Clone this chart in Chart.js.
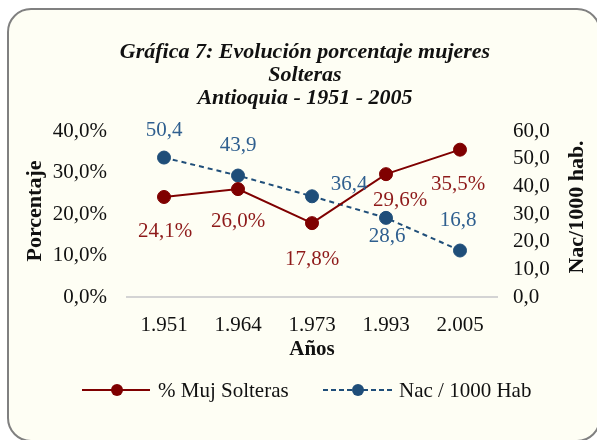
<!DOCTYPE html>
<html><head><meta charset="utf-8">
<script src="https://cdn.jsdelivr.net/npm/chart.js@4"></script>
<style>
html,body{margin:0;padding:0;background:#fff;overflow:hidden;width:597px;height:440px;}
#card{position:absolute;left:7px;top:8px;width:590px;height:430px;border:2px solid #808080;border-radius:24px;background:#fefef4;}
#wrap{position:absolute;left:0;top:0;width:597px;height:440px;}
</style></head><body>
<div id="card"></div>
<div id="wrap"><canvas id="c" width="597" height="440"></canvas></div>
<script>
const categories = ["1.951","1.964","1.973","1.993","2.005"];
const mujSolteras = [24.1, 26.0, 17.8, 29.6, 35.5];
const nacPor1000 = [50.4, 43.9, 36.4, 28.6, 16.8];
const leftTicks = [0, 10, 20, 30, 40];
const rightTicks = [0, 10, 20, 30, 40, 50, 60];
const titleLines = ["Gráfica 7: Evolución porcentaje mujeres", "Solteras", "Antioquia - 1951 - 2005"];
const seriesNames = ["% Muj Solteras", "Nac / 1000 Hab"];

const FONT = "'Liberation Serif', serif";
const RED = "#7f0000", RED_L = "#8e1a1a", BLUE = "#1f4e79", BLUE_L = "#2f5f8f";

const fmt1 = v => v.toFixed(1).replace('.', ',');

// label offsets (dx, dy) relative to point
const redOff = [[1,34],[0,32],[0,36],[14,26],[-2,35]];
const blueOff = [[0,-27],[0,-30],[37,-12],[1,19],[-2,-30]];

const overlay = {
  id: 'overlay',
  afterDatasetsDraw(chart) {
    const ctx = chart.ctx;
    ctx.save();
    ctx.textAlign = 'center'; ctx.textBaseline = 'middle';
    ctx.font = "21px " + FONT;
    chart.getDatasetMeta(0).data.forEach((p, i) => {
      ctx.fillStyle = RED_L;
      ctx.fillText(fmt1(mujSolteras[i]) + '%', p.x + redOff[i][0], p.y + redOff[i][1]);
    });
    chart.getDatasetMeta(1).data.forEach((p, i) => {
      ctx.fillStyle = BLUE_L;
      ctx.fillText(fmt1(nacPor1000[i]), p.x + blueOff[i][0], p.y + blueOff[i][1]);
    });
    // title
    ctx.fillStyle = '#111';
    ctx.font = "italic bold 22px " + FONT;
    titleLines.forEach((t, i) => ctx.fillText(t, 305, 52 + i * 23));
    // axis titles
    const ca = chart.chartArea;
    ctx.font = "bold 21px " + FONT;
    ctx.fillText("Años", (ca.left + ca.right) / 2, 350);
    ctx.font = "bold 22px " + FONT;
    ctx.save(); ctx.translate(35, 211); ctx.rotate(-Math.PI / 2);
    ctx.fillText("Porcentaje", 0, 0); ctx.restore();
    ctx.save(); ctx.translate(577, 207); ctx.rotate(-Math.PI / 2);
    ctx.fillText("Nac/1000 hab.", 0, 0); ctx.restore();
    // legend
    const ly = 390;
    ctx.font = "21px " + FONT;
    ctx.textAlign = 'left';
    ctx.strokeStyle = RED; ctx.lineWidth = 2; ctx.setLineDash([]);
    ctx.beginPath(); ctx.moveTo(82, ly); ctx.lineTo(150, ly); ctx.stroke();
    ctx.fillStyle = RED; ctx.beginPath(); ctx.arc(117, ly, 6, 0, Math.PI * 2); ctx.fill();
    ctx.fillStyle = '#111'; ctx.fillText(seriesNames[0], 158, ly + 1);
    ctx.strokeStyle = BLUE; ctx.lineWidth = 2; ctx.setLineDash([5, 3]);
    ctx.beginPath(); ctx.moveTo(323, ly); ctx.lineTo(393, ly); ctx.stroke();
    ctx.setLineDash([]);
    ctx.fillStyle = BLUE; ctx.beginPath(); ctx.arc(358, ly, 6, 0, Math.PI * 2); ctx.fill();
    ctx.fillStyle = '#111'; ctx.fillText(seriesNames[1], 399, ly + 1);
    ctx.restore();
  }
};

new Chart(document.getElementById('c'), {
  type: 'line',
  data: {
    labels: categories,
    datasets: [
      { label: seriesNames[0], data: mujSolteras, yAxisID: 'y', borderColor: RED, backgroundColor: RED,
        borderWidth: 2, pointRadius: 6.5, pointBorderWidth: 1, pointHoverRadius: 6.5, pointBackgroundColor: RED, pointBorderColor: RED, tension: 0 },
      { label: seriesNames[1], data: nacPor1000, yAxisID: 'y1', borderColor: BLUE, backgroundColor: BLUE,
        borderWidth: 2, borderDash: [5, 4], pointRadius: 6.5, pointBorderWidth: 1, pointHoverRadius: 6.5, pointBackgroundColor: BLUE, pointBorderColor: BLUE, tension: 0 }
    ]
  },
  options: {
    responsive: false, animation: false,
    layout: { padding: { top: 131, left: 0, right: 0, bottom: 0 } },
    plugins: { legend: { display: false }, title: { display: false }, tooltip: { enabled: false } },
    scales: {
      x: {
        offset: true,
        grid: { display: false, drawTicks: false },
        border: { display: true, color: '#d4d4d4', width: 2 },
        ticks: { color: '#111', font: { family: FONT, size: 21 }, padding: 16, autoSkip: false, maxRotation: 0 },
        afterFit: s => { s.height = 143; }
      },
      y: {
        position: 'left', min: 0, max: 40,
        afterBuildTicks: s => { s.ticks = leftTicks.map(v => ({ value: v })); },
        grid: { display: false, drawTicks: false },
        border: { display: false },
        ticks: { color: '#111', font: { family: FONT, size: 21 }, padding: 20, autoSkip: false, callback: v => fmt1(v) + '%' },
        afterFit: s => { s.width = 127; }
      },
      y1: {
        position: 'right', min: 0, max: 60,
        afterBuildTicks: s => { s.ticks = rightTicks.map(v => ({ value: v })); },
        grid: { display: false, drawTicks: false },
        border: { display: false },
        ticks: { color: '#111', font: { family: FONT, size: 21 }, padding: 16, autoSkip: false, callback: v => fmt1(v) },
        afterFit: s => { s.width = 100; }
      }
    }
  },
  plugins: [overlay]
});
</script>
</body></html>
